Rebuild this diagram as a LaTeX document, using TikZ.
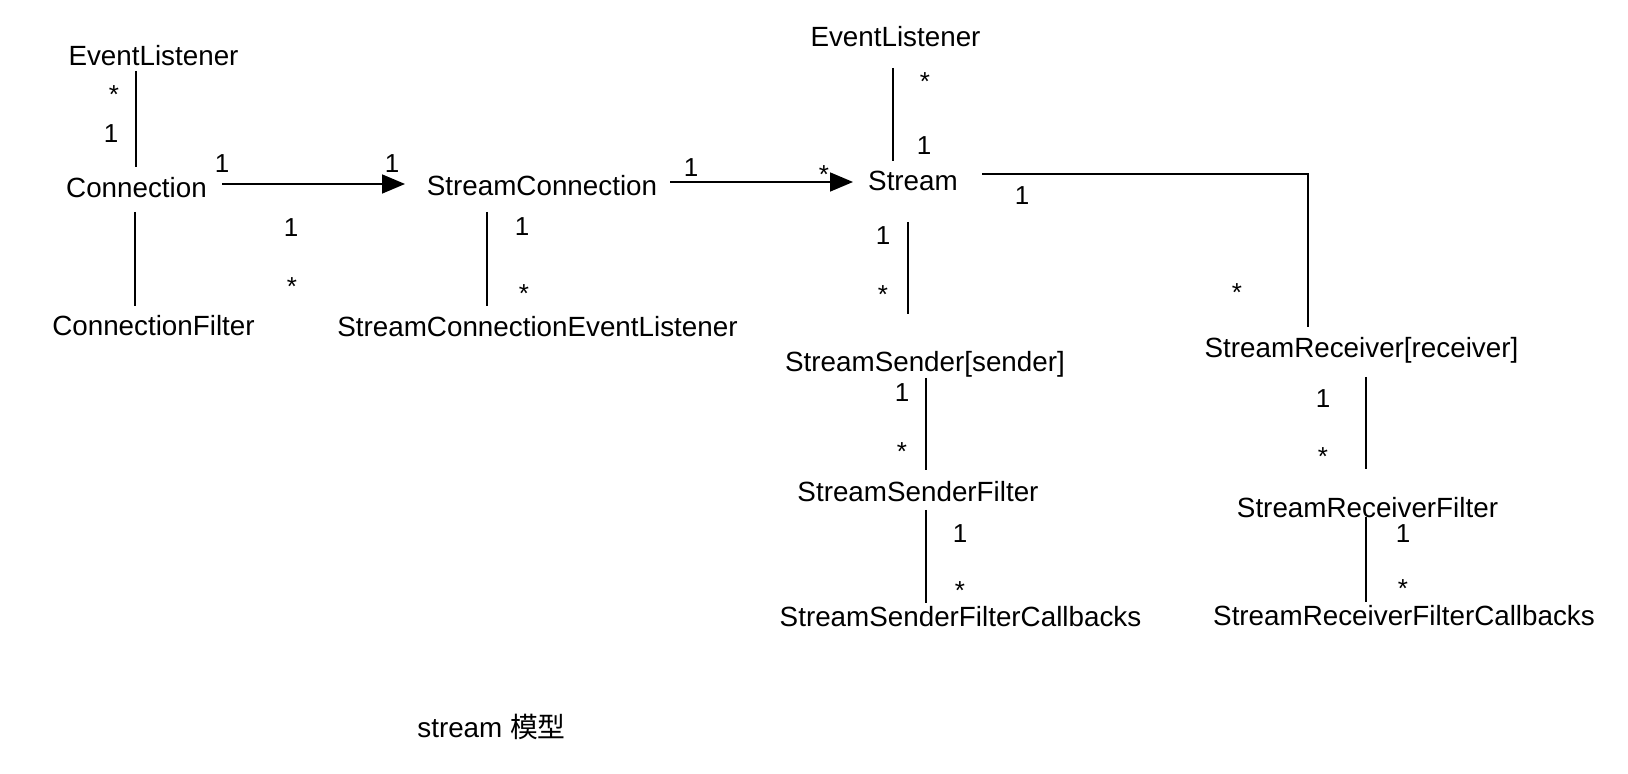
\documentclass[tikz,border=0pt]{standalone}
\usepackage{fontspec}
\setmainfont{Liberation Sans}
\newfontfamily\cjk{Noto Sans CJK SC}
\usetikzlibrary{arrows.meta,calc}
\begin{document}
\begin{tikzpicture}[x=0.5pt,y=-0.5pt,
  cls/.style={anchor=base,inner sep=0pt,font=\fontsize{13.9}{16}\selectfont},
  mult/.style={anchor=base,inner sep=0pt,font=\fontsize{13}{15}\selectfont},
  link/.style={line width=0.85pt},
  nav/.style={link,-{Triangle[length=11.5pt,width=9.5pt]}}]
\fill[white] (0,0) rectangle (1628,774);
\useasboundingbox (0,0) rectangle (1628,774);

% classes (placed on their baselines)
\node[cls] (el1)  at (153.5,66)  {EventListener};
\node[cls] (conn) at (136.5,198) {Connection};
\node[cls] (cf)   at (153.5,336) {ConnectionFilter};
\node[cls] (sc)   at (542,196)   {StreamConnection};
\node[cls] (scel) at (537.5,337) {StreamConnectionEventListener};
\node[cls] (el2)  at (895.5,47)  {EventListener};
\node[cls] (st)   at (913,191)   {Stream};
\node[cls] (ss)   at (925,372)   {StreamSender[sender]};
\node[cls] (ssf)  at (918,502)   {StreamSenderFilter};
\node[cls] (ssfc) at (960.5,627) {StreamSenderFilterCallbacks};
\node[cls] (sr)   at (1361.5,358) {StreamReceiver[receiver]};
\node[cls] (srf)  at (1367.5,518) {StreamReceiverFilter};
\node[cls] (srfc) at (1404,625)  {StreamReceiverFilterCallbacks};

% associations
\draw[link] ($(el1.base)+(-17.5,5)$) -- ($(conn.base)+(-0.5,-31)$);
\draw[link] ($(conn.base)+(-1.5,14)$) -- ($(cf.base)+(-18.5,-30)$);
\draw[nav]  ($(conn.base)+(85.5,-14)$) -- ($(sc.base)+(-137,-12)$);
\draw[link] ($(sc.base)+(-55,16)$) -- ($(scel.base)+(-50.5,-31)$);
\draw[nav]  ($(sc.base)+(128,-14)$) -- ($(st.base)+(-60,-9)$);
\draw[link] ($(el2.base)+(-2.5,21)$) -- ($(st.base)+(-20,-30)$);
\draw[link] ($(st.base)+(-5,31)$) -- ($(ss.base)+(-17,-58)$);
\draw[link] ($(st.base)+(69,-17)$) -| ($(sr.base)+(-53.5,-31)$);
\draw[link] ($(ss.base)+(1,6)$) -- ($(ssf.base)+(8,-32)$);
\draw[link] ($(ssf.base)+(8,8)$) -- ($(ssfc.base)+(-34.5,-24)$);
\draw[link] ($(sr.base)+(4.5,19)$) -- ($(srf.base)+(-1.5,-49)$);
\draw[link] ($(srf.base)+(-1.5,-1)$) -- ($(srfc.base)+(-38,-23)$);

% multiplicities
\node[mult] (m1)  at (114,104)  {*};
\node[mult] (m2)  at (111,143)  {1};
\node[mult] (m3)  at (222,173)  {1};
\node[mult] (m4)  at (392,173)  {1};
\node[mult] (m5)  at (291,237)  {1};
\node[mult] (m6)  at (292,296)  {*};
\node[mult] (m7)  at (522,236)  {1};
\node[mult] (m8)  at (524,303)  {*};
\node[mult] (m9)  at (691,177)  {1};
\node[mult] (m10) at (824,184)  {*};
\node[mult] (m11) at (925,91)   {*};
\node[mult] (m12) at (924,155)  {1};
\node[mult] (m13) at (1022,205) {1};
\node[mult] (m14) at (883,245)  {1};
\node[mult] (m15) at (883,304)  {*};
\node[mult] (m16) at (1237,302) {*};
\node[mult] (m17) at (902,402)  {1};
\node[mult] (m18) at (902,461)  {*};
\node[mult] (m19) at (960,543)  {1};
\node[mult] (m20) at (960,600)  {*};
\node[mult] (m21) at (1323,408) {1};
\node[mult] (m22) at (1323,466) {*};
\node[mult] (m23) at (1403,543) {1};
\node[mult] (m24) at (1403,598) {*};

% caption
\node[cls,anchor=base west] (cap) at (417,737) {stream {\cjk 模型}};
\end{tikzpicture}
\end{document}
